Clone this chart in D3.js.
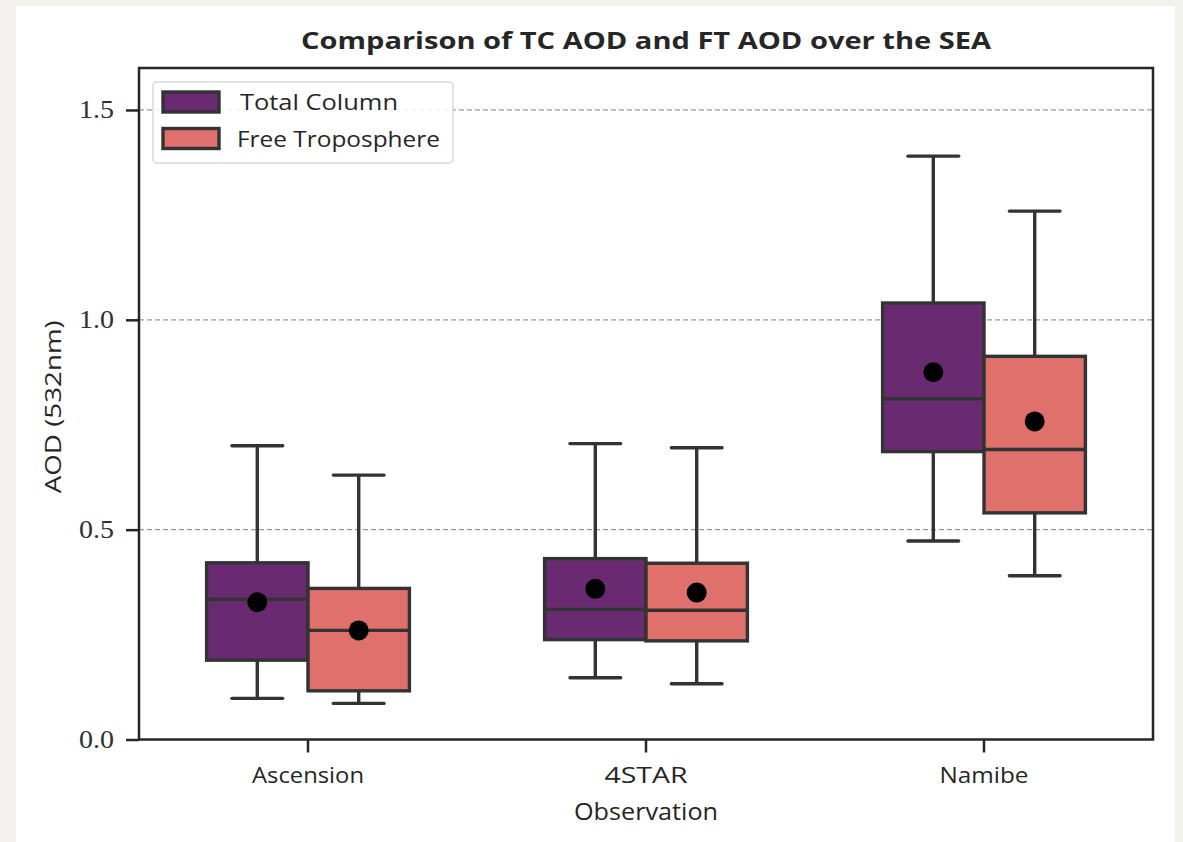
<!DOCTYPE html>
<html>
<head>
<meta charset="utf-8">
<script src="https://cdn.jsdelivr.net/npm/d3@7"></script>
<style>
  html, body { margin: 0; padding: 0; background: #f2f1ee; }
  svg { display: block; }
</style>
</head>
<body>
<svg id="chart" width="1183" height="842"></svg>
<script>
// Sites and series
const sites = ["Ascension", "4STAR", "Namibe"];
const series = ["Total Column", "Free Troposphere"];
const seriesColors = ["#6a2a72", "#df706c"];

// Box statistics per site: [lower whisker, Q1, median, Q3, upper whisker], plus mean
const tcStats = [
  [0.098, 0.189, 0.334, 0.421, 0.700],
  [0.147, 0.238, 0.310, 0.431, 0.705],
  [0.473, 0.686, 0.812, 1.040, 1.390]
];
const tcMeans = [0.327, 0.359, 0.875];
const ftStats = [
  [0.086, 0.116, 0.260, 0.360, 0.630],
  [0.133, 0.235, 0.308, 0.420, 0.695],
  [0.390, 0.540, 0.691, 0.913, 1.259]
];
const ftMeans = [0.260, 0.350, 0.758];
const yTicks = [0.0, 0.5, 1.0, 1.5];
const gridValues = [0.5, 1.0, 1.5];

const svg = d3.select("#chart");
const W = 1183, H = 842;

// white page panel
svg.append("rect").attr("x", 16).attr("y", 6).attr("width", 1159).attr("height", H - 6).attr("fill", "#ffffff");

const m = { left: 139, right: 1153, top: 68, bottom: 739.5 };
const x = d3.scaleBand().domain(sites).range([m.left, m.right]).padding(0);
const bw = x.bandwidth();
const xs = d3.scaleBand().domain(series).range([0.2 * bw, 0.8 * bw]).padding(0);
const y = d3.scaleLinear().domain([0, 1.6]).range([m.bottom, m.top]);

const ink = "#333333";
const lw = 3.4;

// grid
svg.append("g").selectAll("line").data(gridValues).join("line")
  .attr("x1", m.left).attr("x2", m.right)
  .attr("y1", d => y(d)).attr("y2", d => y(d))
  .attr("stroke", "#9a9a9a").attr("stroke-width", 1.2)
  .attr("stroke-dasharray", "5,3");

// boxes
const rows = [];
sites.forEach((s, i) => {
  rows.push({ site: s, ser: series[0], color: seriesColors[0], st: tcStats[i], mean: tcMeans[i] });
  rows.push({ site: s, ser: series[1], color: seriesColors[1], st: ftStats[i], mean: ftMeans[i] });
});

const boxes = svg.append("g").selectAll("g").data(rows).join("g");
boxes.each(function(d) {
  const g = d3.select(this);
  const x0 = x(d.site) + xs(d.ser);
  const w = xs.bandwidth();
  const cx = x0 + w / 2;
  const [lo, q1, med, q3, hi] = d.st;
  // whiskers
  g.append("line").attr("x1", cx).attr("x2", cx).attr("y1", y(q3)).attr("y2", y(hi))
    .attr("stroke", ink).attr("stroke-width", lw);
  g.append("line").attr("x1", cx).attr("x2", cx).attr("y1", y(q1)).attr("y2", y(lo))
    .attr("stroke", ink).attr("stroke-width", lw);
  // caps
  [lo, hi].forEach(v => {
    g.append("line").attr("x1", cx - w / 4).attr("x2", cx + w / 4).attr("y1", y(v)).attr("y2", y(v))
      .attr("stroke", ink).attr("stroke-width", lw).attr("stroke-linecap", "round");
  });
  // box
  g.append("rect").attr("x", x0).attr("y", y(q3)).attr("width", w).attr("height", y(q1) - y(q3))
    .attr("fill", d.color).attr("stroke", ink).attr("stroke-width", lw);
  // median
  g.append("line").attr("x1", x0).attr("x2", x0 + w).attr("y1", y(med)).attr("y2", y(med))
    .attr("stroke", ink).attr("stroke-width", lw);
  // mean
  g.append("circle").attr("cx", cx).attr("cy", y(d.mean)).attr("r", 10).attr("fill", "#000");
});

// axes
const serif = "'Liberation Serif', 'DejaVu Serif', serif";
const sans = "'Open Sans', Lato, sans-serif";
const siteWidths = { "Ascension": 112, "4STAR": 83, "Namibe": 89 };

const yAxis = svg.append("g").attr("transform", `translate(${m.left},0)`)
  .call(d3.axisLeft(y).tickValues(yTicks).tickFormat(d3.format(".1f")).tickSize(13).tickPadding(12));
yAxis.select(".domain").remove();
yAxis.selectAll(".tick line").attr("stroke", "#262626").attr("stroke-width", 2.5);
yAxis.selectAll(".tick text").attr("font-family", serif).attr("font-size", 25).attr("fill", "#303030")
  .attr("textLength", 35).attr("lengthAdjust", "spacingAndGlyphs");

const xAxis = svg.append("g").attr("transform", `translate(0,${m.bottom})`)
  .call(d3.axisBottom(x).tickSize(13).tickPadding(15));
xAxis.select(".domain").remove();
xAxis.selectAll(".tick line").attr("stroke", "#262626").attr("stroke-width", 2.5);
xAxis.selectAll(".tick text").attr("font-family", sans).attr("font-size", 22).attr("fill", "#262626")
  .attr("textLength", d => siteWidths[d]).attr("lengthAdjust", "spacingAndGlyphs");

// frame
svg.append("rect").attr("x", m.left).attr("y", m.top).attr("width", m.right - m.left).attr("height", m.bottom - m.top)
  .attr("fill", "none").attr("stroke", "#262626").attr("stroke-width", 2.5);

// titles
svg.append("text").attr("x", (m.left + m.right) / 2).attr("y", 49).attr("text-anchor", "middle")
  .attr("font-family", sans).attr("font-weight", "bold").attr("font-size", 23).attr("fill", "#262626")
  .attr("textLength", 690).attr("lengthAdjust", "spacingAndGlyphs")
  .text("Comparison of TC AOD and FT AOD over the SEA");
svg.append("text").attr("x", (m.left + m.right) / 2).attr("y", 820).attr("text-anchor", "middle")
  .attr("font-family", sans).attr("font-size", 23).attr("fill", "#262626")
  .attr("textLength", 144).attr("lengthAdjust", "spacingAndGlyphs").text("Observation");
svg.append("text").attr("transform", `translate(61,${(m.top + m.bottom) / 2 + 3}) rotate(-90)`)
  .attr("text-anchor", "middle").attr("font-family", sans).attr("font-size", 22).attr("fill", "#262626")
  .attr("textLength", 173).attr("lengthAdjust", "spacingAndGlyphs")
  .text("AOD (532nm)");

// legend
const legendWidths = [158, 203];
const lg = svg.append("g").attr("transform", "translate(153,82)");
lg.append("rect").attr("width", 300).attr("height", 81).attr("rx", 4)
  .attr("fill", "#ffffff").attr("fill-opacity", 0.85).attr("stroke", "#d9d9d9").attr("stroke-width", 1.5);
series.forEach((s, i) => {
  const yy = 10 + i * 36.5;
  lg.append("rect").attr("x", 10).attr("y", yy).attr("width", 56).attr("height", 20)
    .attr("fill", seriesColors[i]).attr("stroke", ink).attr("stroke-width", lw);
  lg.append("text").attr("x", i === 0 ? 87 : 84).attr("y", yy + 18)
    .attr("font-family", sans).attr("font-size", 22).attr("fill", "#262626")
    .attr("textLength", legendWidths[i]).attr("lengthAdjust", "spacingAndGlyphs").text(s);
});
</script>
</body>
</html>
